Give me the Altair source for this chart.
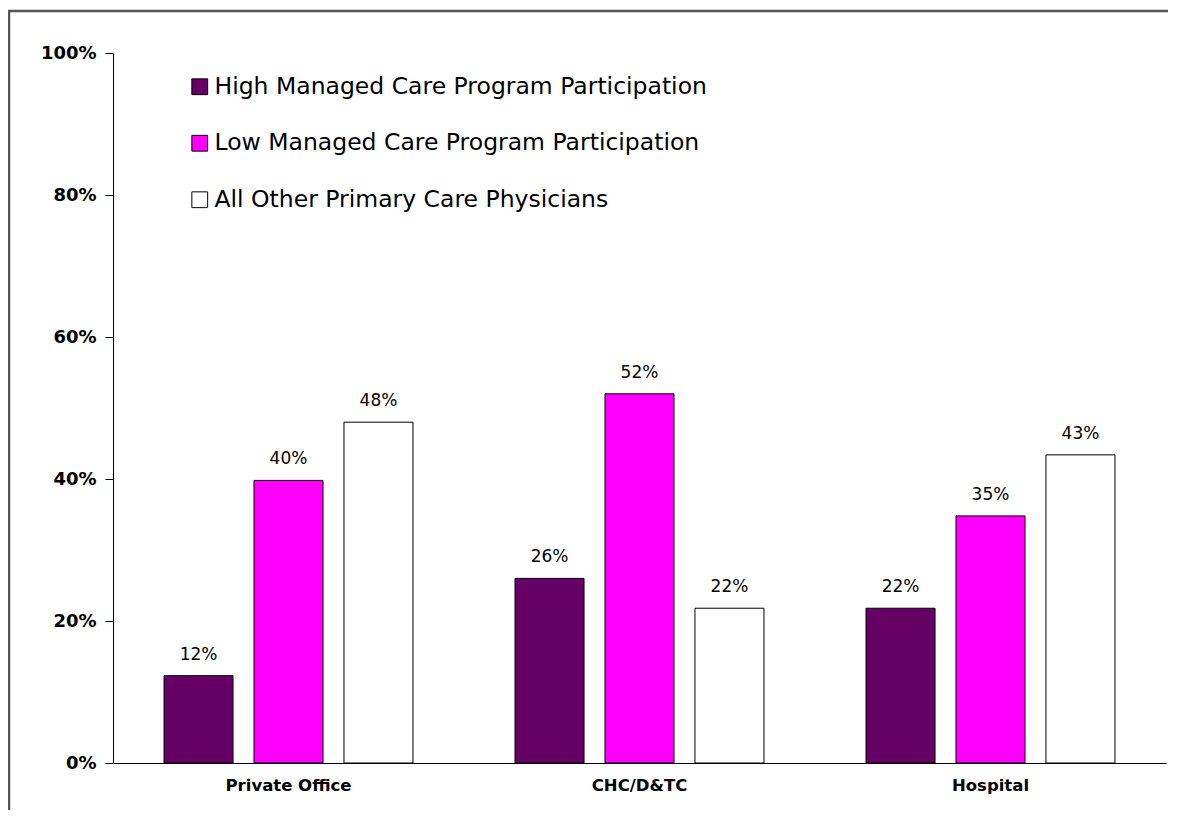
import altair as alt
import pandas as pd

settings = ["Private Office", "CHC/D&TC", "Hospital"]
groups = [
    "High Managed Care Program Participation",
    "Low Managed Care Program Participation",
    "All Other Primary Care Physicians",
]
high = [0.123, 0.26, 0.218]
low = [0.398, 0.52, 0.348]
other = [0.48, 0.218, 0.434]
colors = ["#660066", "#FF00FF", "#FFFFFF"]

rows = []
for i, s in enumerate(settings):
    for g, vals in zip(groups, [high, low, other]):
        rows.append({"setting": s, "group": g, "value": vals[i]})
df = pd.DataFrame(rows)

FONT = "DejaVu Sans"
W, H = 1053, 710

x = alt.X("setting:N", sort=settings, title=None,
          scale=alt.Scale(paddingInner=0.231, paddingOuter=0.1155),
          axis=alt.Axis(labelFontWeight="bold", labelFontSize=16.5, labelColor="black",
                        ticks=False, labelPadding=14, domainColor="black", labelAngle=0))
xo = alt.XOffset("group:N", sort=groups,
                 scale=alt.Scale(paddingInner=0.233, paddingOuter=0.1165))

base = alt.Chart(df)

bars = base.mark_bar(stroke="black", strokeWidth=1).encode(
    x=x, xOffset=xo,
    y=alt.Y("value:Q", title=None,
            scale=alt.Scale(domain=[0, 1], nice=False),
            axis=alt.Axis(format=".0%", values=[0, 0.2, 0.4, 0.6, 0.8, 1.0],
                          labelFontWeight="bold", labelFontSize=18, labelColor="black",
                          tickSize=8, tickColor="black", domainColor="black",
                          labelPadding=9, grid=False)),
    fill=alt.Fill("group:N", sort=groups,
                  scale=alt.Scale(domain=groups, range=colors),
                  legend=alt.Legend(title=None, orient="none", legendX=75, legendY=22,
                                    symbolType="square", symbolSize=250,
                                    symbolStrokeColor="black", symbolStrokeWidth=1,
                                    labelFontSize=23.5, labelFont=FONT, labelColor="black",
                                    rowPadding=31.5, labelLimit=800, symbolOffset=0,
                                    labelOffset=3)),
)

labels = base.mark_text(baseline="bottom", dy=-12, fontSize=17, font=FONT, color="black").encode(
    x=x, xOffset=xo,
    y=alt.Y("value:Q"),
    text=alt.Text("value:Q", format=".0%"),
)

frame = alt.Chart(pd.DataFrame({"k": [0]})).mark_rect(
    fill=None, stroke="#555555", strokeWidth=2.5
).encode(
    x=alt.value(-104), x2=alt.value(W + 60),
    y=alt.value(-42), y2=alt.value(H + 80),
)

chart = alt.layer(frame, bars, labels).properties(
    width=W, height=H,
    autosize=alt.AutoSizeParams(type="none"),
    padding={"left": 105, "top": 45, "right": 2, "bottom": 47},
    view=alt.ViewBackground(stroke=None, strokeWidth=0),
).configure_view(strokeWidth=0, stroke=None).configure(
    font=FONT, background="white"
)

chart.save("out.html", embed_options={"renderer": "svg", "actions": False})
